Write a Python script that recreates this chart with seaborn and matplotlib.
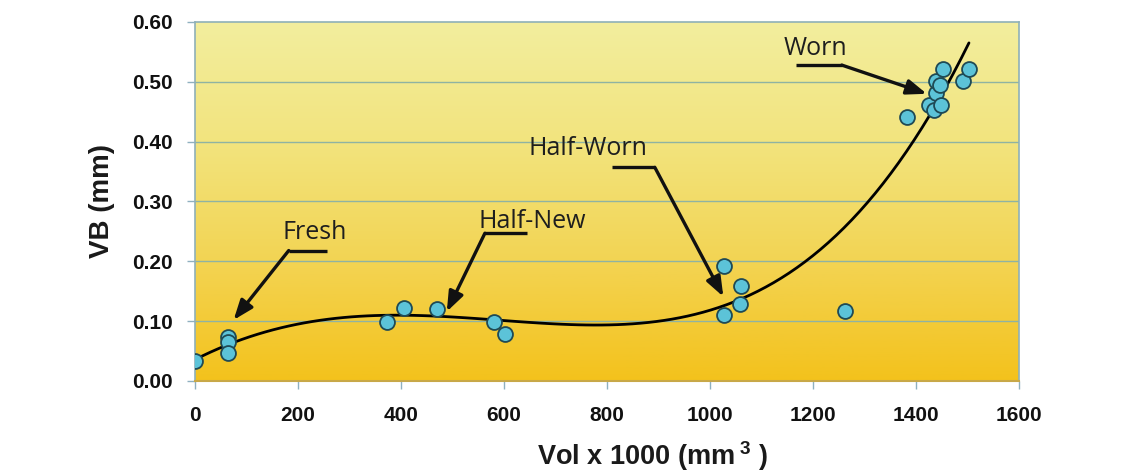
import numpy as np
import pandas as pd
import matplotlib
matplotlib.use("Agg")
import matplotlib.pyplot as plt
from matplotlib.colors import LinearSegmentedColormap
import seaborn as sns

vol = [0, 64, 64, 64, 372, 406, 469, 581, 602, 1027, 1027, 1060, 1058, 1262,
       1383, 1425, 1435, 1439, 1439, 1447, 1448, 1453, 1492, 1503]
vb = [0.033, 0.074, 0.066, 0.046, 0.098, 0.122, 0.121, 0.098, 0.078, 0.193,
      0.110, 0.158, 0.128, 0.117, 0.441, 0.462, 0.453, 0.482, 0.502, 0.494,
      0.462, 0.521, 0.502, 0.521]
x_ticks = [0, 200, 400, 600, 800, 1000, 1200, 1400, 1600]
y_ticks = [0.0, 0.1, 0.2, 0.3, 0.4, 0.5, 0.6]
labels = ["Fresh", "Half-New", "Half-Worn", "Worn"]
label_xy = [(233, 0.249), (654, 0.266), (763, 0.389), (1204, 0.555)]
arrow_path = [
    [(256, 0.218), (182, 0.218), (75, 0.102)],
    [(644, 0.247), (563, 0.247), (489, 0.116)],
    [(809, 0.357), (893, 0.357), (1026, 0.141)],
    [(1167, 0.528), (1256, 0.528), (1421, 0.480)],
]

df = pd.DataFrame({"vol": vol, "vb": vb})

sns.set_theme(style="white")
plt.rcParams["font.family"] = ["Liberation Sans", "DejaVu Sans"]
plt.rcParams["mathtext.fontset"] = "custom"
plt.rcParams["mathtext.rm"] = "Liberation Sans:bold"
plt.rcParams["mathtext.bf"] = "Liberation Sans:bold"

fig = plt.figure(figsize=(11.41, 4.76), dpi=100)
ax = fig.add_axes([0.1709, 0.1996, 0.893 - 0.1709, 0.9538 - 0.1996])

# gradient background
cmap = LinearSegmentedColormap.from_list(
    "bg", ["#f3c21c", "#f3d453", "#f2e47e", "#f3ee9e"])
grad = np.linspace(0, 1, 256).reshape(-1, 1)
ax.imshow(grad, extent=[0, 1, 0, 1], transform=ax.transAxes, origin="lower",
          cmap=cmap, aspect="auto", zorder=0)

for yt in y_ticks[1:-1]:
    ax.axhline(yt, color="#8fb3a2", lw=1.0, zorder=1)

sns.regplot(data=df, x="vol", y="vb", order=4, ci=None, truncate=True,
            scatter=False, ax=ax, line_kws=dict(color="black", lw=2.0, zorder=3))
sns.scatterplot(data=df, x="vol", y="vb", ax=ax, s=115, color="#5cc3d8",
                edgecolor="#1f4a55", linewidth=1.3, zorder=4)

ax.set_xlim(0, 1600)
ax.set_ylim(0, 0.6)
ax.set_xticks(x_ticks)
ax.set_yticks(y_ticks)
ax.set_xticklabels([str(t) for t in x_ticks], fontsize=15, fontweight="bold",
                   color="#111111")
ax.set_yticklabels([f"{t:.2f}" for t in y_ticks], fontsize=15,
                   fontweight="bold", color="#111111")
ax.tick_params(axis="both", length=6, width=1, color="#8fb0c0",
               direction="out", bottom=True, left=True)
ax.tick_params(axis="x", pad=12)
ax.tick_params(axis="y", pad=10)

for side in ["top", "right", "left"]:
    ax.spines[side].set_color("#8fb0b8")
    ax.spines[side].set_linewidth(1.2)
ax.spines["bottom"].set_color("#c8a848")
ax.spines["bottom"].set_linewidth(1.5)

ax.set_xlabel(r"Vol x 1000 (mm$\,^{3}$ )", fontsize=19.5, fontweight="bold",
              color="#1a1a1a", va="center")
ax.set_ylabel("VB (mm)", fontsize=20, fontweight="bold", color="#1a1a1a",
              labelpad=12)
ax.xaxis.set_label_coords(0.555, -0.21)

for lab, (tx, ty), path in zip(labels, label_xy, arrow_path):
    ax.text(tx, ty, lab, fontsize=18, family=["Open Sans", "DejaVu Sans"],
            color="#1e1e1e", ha="center", va="center", zorder=5)
    xs = [p[0] for p in path[:-1]]
    ys = [p[1] for p in path[:-1]]
    ax.plot(xs, ys, color="#111111", lw=2.4, zorder=5, solid_capstyle="butt")
    ax.annotate("", xy=path[-1], xytext=path[-2],
                arrowprops=dict(arrowstyle="-|>,head_length=1.0,head_width=0.38",
                                color="#111111", lw=2.4, shrinkA=0, shrinkB=0),
                zorder=5)

fig.savefig("out.png", dpi=100, facecolor="white")
